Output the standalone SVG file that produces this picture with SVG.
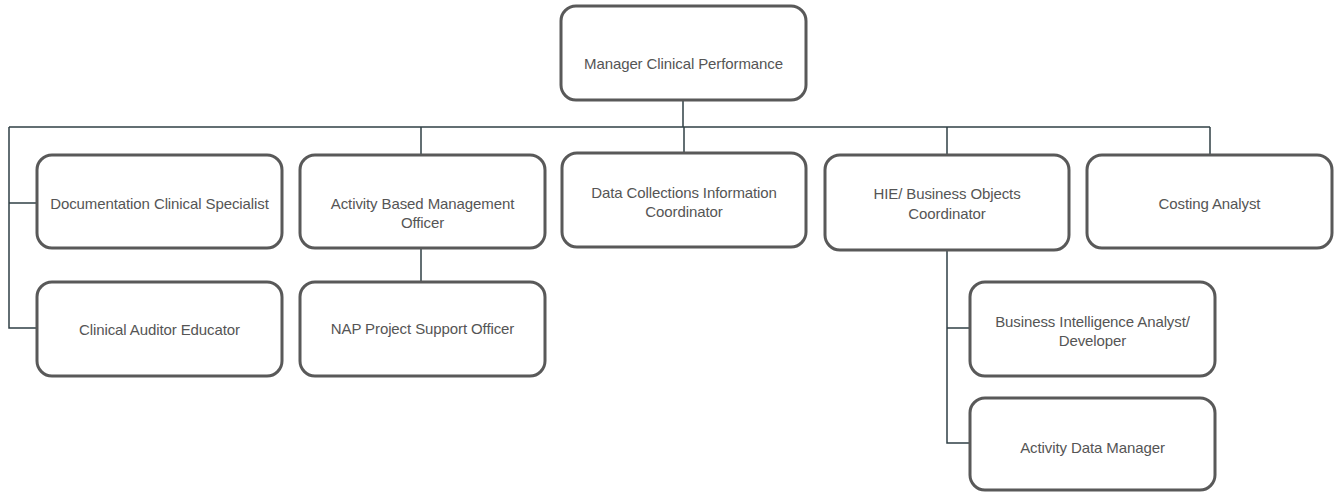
<svg xmlns="http://www.w3.org/2000/svg" width="1336" height="493" viewBox="0 0 1336 493">
  <style>
    .box { fill: #ffffff; stroke: #595959; stroke-width: 3; }
    .lbl { font-family: "Liberation Sans", Arial, sans-serif; font-size: 15px; fill: #555555; text-anchor: middle; letter-spacing: -0.1px; }
    .wire { fill: none; stroke: #2f3f45; stroke-width: 1.5; }
  </style>
  <rect width="1336" height="493" fill="#ffffff"/>

  <!-- reporting lines -->
  <g id="connectors">
    <path class="wire" d="M683,100 V127"/>
    <path class="wire" d="M9,127 H1210"/>
    <path class="wire" d="M9,127 V328 H37"/>
    <path class="wire" d="M9,203 H37"/>
    <path class="wire" d="M421,127 V155"/>
    <path class="wire" d="M421,248 V282"/>
    <path class="wire" d="M684,127 V153"/>
    <path class="wire" d="M947,127 V155"/>
    <path class="wire" d="M1210,127 V155"/>
    <path class="wire" d="M947,250 V443 H970"/>
    <path class="wire" d="M947,328 H970"/>
  </g>

  <g id="manager">
    <rect class="box" x="561" y="6" width="245" height="94" rx="15"/>
    <text class="lbl" x="683.5" y="68.5">Manager Clinical Performance</text>
  </g>
  <g id="documentation">
    <rect class="box" x="37" y="155" width="245" height="93" rx="15"/>
    <text class="lbl" x="159.5" y="209">Documentation Clinical Specialist</text>
  </g>
  <g id="auditor">
    <rect class="box" x="37" y="282" width="245" height="94" rx="15"/>
    <text class="lbl" x="159.5" y="334.5">Clinical Auditor Educator</text>
  </g>
  <g id="abm">
    <rect class="box" x="300" y="155" width="245" height="93" rx="15"/>
    <text class="lbl" x="422.5" y="208.5">Activity Based Management</text>
    <text class="lbl" x="422.5" y="227.5">Officer</text>
  </g>
  <g id="nap">
    <rect class="box" x="300" y="282" width="245" height="94" rx="15"/>
    <text class="lbl" x="422.5" y="334">NAP Project Support Officer</text>
  </g>
  <g id="datacollections">
    <rect class="box" x="562" y="153" width="244" height="94" rx="15"/>
    <text class="lbl" x="684" y="197.5">Data Collections Information</text>
    <text class="lbl" x="684" y="217">Coordinator</text>
  </g>
  <g id="hie">
    <rect class="box" x="825" y="155" width="244" height="95" rx="15"/>
    <text class="lbl" x="947" y="199">HIE/ Business Objects</text>
    <text class="lbl" x="947" y="218.5">Coordinator</text>
  </g>
  <g id="costing">
    <rect class="box" x="1087" y="155" width="245" height="93" rx="15"/>
    <text class="lbl" x="1209.5" y="208.5">Costing Analyst</text>
  </g>
  <g id="bi">
    <rect class="box" x="970" y="282" width="245" height="94" rx="15"/>
    <text class="lbl" x="1092.5" y="327">Business Intelligence Analyst/</text>
    <text class="lbl" x="1092.5" y="346">Developer</text>
  </g>
  <g id="adm">
    <rect class="box" x="970" y="398" width="245" height="92" rx="15"/>
    <text class="lbl" x="1092.5" y="452.5">Activity Data Manager</text>
  </g>
</svg>
